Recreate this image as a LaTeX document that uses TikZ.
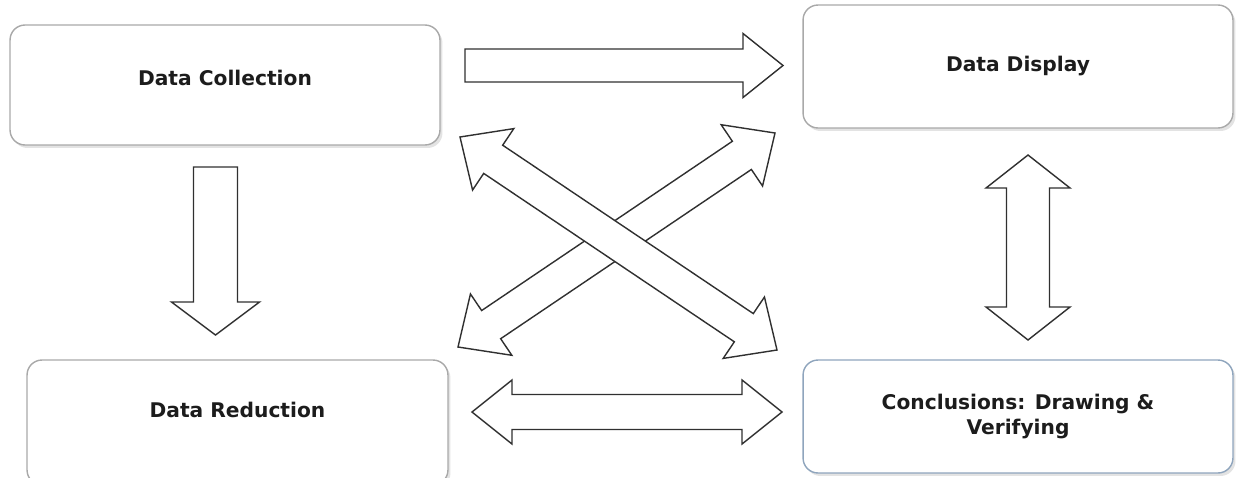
\documentclass[tikz,border=0pt]{standalone}
\usepackage{fontspec}
\setmainfont{DejaVu Sans}
\usetikzlibrary{calc,shadows}
\definecolor{QDEdge}{HTML}{A9A9A9}
\definecolor{QDBlueEdge}{HTML}{8FA5BD}
\definecolor{QDInk}{HTML}{1C1C1C}
\definecolor{QDArrow}{HTML}{303030}
\tikzset{
  stage/.style={draw=QDEdge,line width=0.8pt,fill=white,rounded corners=3mm,
                text=QDInk,font=\fontsize{11.5}{14.5}\selectfont\bfseries,align=center,
                inner sep=0pt,drop shadow={opacity=0.22,shadow xshift=0.5mm,shadow yshift=-0.6mm}},
  stageblue/.style={stage,draw=QDBlueEdge},
  blockarrow/.style={draw=QDArrow,fill=white,line width=0.8pt,line join=miter},
}
% #1 tail, #2 tip, #3 head length, #4 head half width, #5 shaft half width
\newcommand{\singlearrow}[5]{%
  \path ($(#2)!#3!(#1)$) coordinate (hb);
  \draw[blockarrow] ($(#1)!#5!90:(#2)$) -- ($(hb)!#5!90:(#2)$) -- ($(hb)!#4!90:(#2)$)
    -- (#2) -- ($(hb)!#4!-90:(#2)$) -- ($(hb)!#5!-90:(#2)$) -- ($(#1)!#5!-90:(#2)$) -- cycle;%
}
\newcommand{\doublearrow}[5]{%
  \path ($(#1)!#3!(#2)$) coordinate (ha) ($(#2)!#3!(#1)$) coordinate (hb);
  \draw[blockarrow] (#1) -- ($(ha)!#4!90:(#2)$) -- ($(ha)!#5!90:(#2)$) -- ($(hb)!#5!90:(#2)$)
    -- ($(hb)!#4!90:(#2)$) -- (#2) -- ($(hb)!#4!-90:(#2)$) -- ($(hb)!#5!-90:(#2)$)
    -- ($(ha)!#5!-90:(#2)$) -- ($(ha)!#4!-90:(#2)$) -- cycle;%
}

\begin{document}
\begin{tikzpicture}[x=0.02cm,y=-0.02cm]
  \fill[white] (0,0) rectangle (1236,477);
  \useasboundingbox (0,0) rectangle (1236,477);

  \node[stage,minimum width=8.6cm,minimum height=2.4cm,text depth=0.28cm] (coll) at (225,85) {Data Collection};
  \node[stage,minimum width=8.6cm,minimum height=2.46cm,text depth=0.12cm] (disp) at (1018,66.5) {Data Display};
  \node[stage,minimum width=8.42cm,minimum height=2.5cm,text depth=0.5cm] (redu) at (237.5,422.5) {Data Reduction};
  \node[stageblue,minimum width=8.6cm,minimum height=2.26cm] (concl) at (1018,416.5) {Conclusions: Drawing \&\\Verifying};

  % connector ends
  \coordinate (collR) at (465,65.5);   \coordinate (dispL) at (783,65.5);
  \coordinate (collB) at (215.5,167);  \coordinate (reduT) at (215.5,335);
  \coordinate (dispB) at (1028,155);   \coordinate (conclT) at (1028,340);
  \coordinate (reduR) at (472,412);    \coordinate (conclL) at (782,412);
  \coordinate (collX) at (460,137);    \coordinate (conclX) at (777,350);
  \coordinate (reduX) at (458,347);    \coordinate (dispX) at (775,133);

  \singlearrow{collR}{dispL}{0.8cm}{0.64cm}{0.33cm}
  \singlearrow{collB}{reduT}{0.66cm}{0.88cm}{0.44cm}
  \doublearrow{dispB}{conclT}{0.66cm}{0.84cm}{0.43cm}
  \doublearrow{reduR}{conclL}{0.8cm}{0.64cm}{0.35cm}
  \doublearrow{reduX}{dispX}{0.8cm}{0.74cm}{0.34cm}
  \doublearrow{collX}{conclX}{0.8cm}{0.74cm}{0.34cm}
\end{tikzpicture}
\end{document}
